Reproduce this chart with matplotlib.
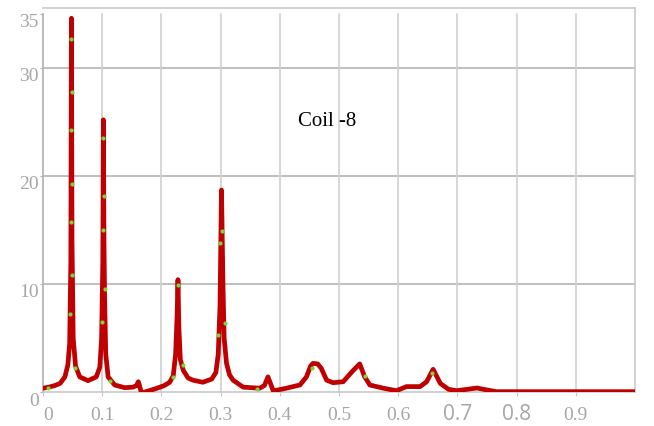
import matplotlib
matplotlib.use("Agg")
import matplotlib.pyplot as plt
from matplotlib.transforms import ScaledTranslation

# ---- data ----
freq = [0.000, 0.010, 0.020, 0.029, 0.037, 0.042, 0.045, 0.047, 0.048, 0.049,
        0.051, 0.055, 0.062, 0.076, 0.090, 0.096, 0.099, 0.101, 0.102, 0.103,
        0.104, 0.106, 0.110, 0.121, 0.138, 0.152, 0.158, 0.161, 0.1665, 0.175,
        0.190, 0.205, 0.214, 0.220, 0.224, 0.2265, 0.228, 0.2295, 0.232, 0.237,
        0.245, 0.253, 0.270, 0.285, 0.292, 0.296, 0.299, 0.3015, 0.304, 0.306,
        0.310, 0.315, 0.321, 0.338, 0.366, 0.374, 0.380, 0.389, 0.411, 0.434,
        0.445, 0.452, 0.456, 0.464, 0.470, 0.479, 0.490, 0.507, 0.524, 0.535,
        0.543, 0.552, 0.575, 0.597, 0.614, 0.637, 0.648, 0.659, 0.671, 0.685,
        0.699, 0.733, 0.744, 0.766, 0.800, 1.000]
amplitude = [0.35, 0.45, 0.6, 0.8, 1.4, 2.5, 4.5, 12.0, 34.6, 14.0,
             5.0, 2.4, 1.4, 1.05, 1.4, 2.3, 5.0, 12.0, 25.2, 14.0,
             9.0, 3.5, 1.4, 0.65, 0.4, 0.45, 0.6, 0.95, -0.1, 0.05,
             0.3, 0.6, 0.9, 1.5, 3.5, 7.0, 10.4, 6.0, 3.0, 2.0,
             1.3, 1.1, 0.9, 1.2, 1.8, 3.5, 8.0, 18.7, 10.0, 5.0,
             2.65, 1.6, 1.1, 0.45, 0.35, 0.6, 1.4, 0.1, 0.35, 0.65,
             1.4, 2.4, 2.65, 2.6, 2.2, 1.1, 0.86, 0.95, 2.0, 2.6,
             1.45, 0.65, 0.35, 0.12, 0.5, 0.5, 0.95, 2.1, 0.8, 0.25,
             0.12, 0.37, 0.25, 0.03, 0.03, 0.03]

dot_freq = [0.009, 0.048, 0.049, 0.047, 0.049, 0.047, 0.049, 0.046, 0.054,
            0.102, 0.103, 0.101, 0.105, 0.099, 0.113,
            0.220, 0.228, 0.2366, 0.3024, 0.2997, 0.307, 0.2956,
            0.362, 0.454, 0.5435, 0.6565]
dot_amp = [0.35, 32.7, 27.8, 24.3, 19.3, 15.7, 10.8, 7.2, 2.25,
           23.5, 18.1, 15.0, 9.5, 6.5, 1.05,
           1.4, 9.9, 2.5, 14.9, 13.8, 6.4, 5.3,
           0.3, 2.25, 1.45, 1.8]

xticks = [0, 0.1, 0.2, 0.3, 0.4, 0.5, 0.6, 0.7, 0.8, 0.9]
xlabels = ["0", "0.1", "0.2", "0.3", "0.4", "0.5", "0.6", "0.7", "0.8", "0.9"]
yticks = [0, 10, 20, 30, 35]
ylabels = ["0", "10", "20", "30", "35"]
ygrid = [10, 20, 30]
title = "Coil -8"

# ---- figure ----
W, H, DPI = 654, 426, 100
fig = plt.figure(figsize=(W / DPI, H / DPI), dpi=DPI)
ax = fig.add_axes([43 / W, (H - 392) / H, 592 / W, 384 / H])
ax.set_xlim(0, 1.0)
ax.set_ylim(0, 35.55)

for g in ygrid:
    ax.axhline(g, color="#b4b4b4", lw=1.2, zorder=1)
for t in xticks[1:]:
    ax.plot([t, t], [0, 35], color="#d0d0d0", lw=1.2, zorder=1)

ax.plot(freq, amplitude, color="#c00000", lw=3.4, solid_joinstyle="round",
        solid_capstyle="round", zorder=3)
ax.scatter(dot_freq, dot_amp, s=9, color="#7ed23a", zorder=4, linewidths=0)

ax.text(0.48, 25.0, title, fontsize=15, family="Liberation Serif",
        color="black", ha="center", va="center")

for s in ["top", "right", "bottom", "left"]:
    ax.spines[s].set_color("#c8c8c8")
    ax.spines[s].set_linewidth(1.2)
ax.spines["left"].set_bounds(0, 35)
ax.spines["left"].set_color("#b0b0b0")

ax.set_xticks(xticks)
ax.set_xticklabels(xlabels)
ax.set_yticks(yticks)
ax.set_yticklabels(ylabels)
ax.tick_params(axis="x", length=3, color="#c8c8c8", pad=17)
ax.tick_params(axis="y", length=2, color="#b0b0b0", pad=1)

grey = "#a6a6a6"
for lab in ax.get_yticklabels():
    lab.set_fontfamily("Liberation Serif")
    lab.set_fontsize(14)
    lab.set_color(grey)
    lab.set_transform(lab.get_transform() + ScaledTranslation(0, -7 / DPI, fig.dpi_scale_trans))

for lab in ax.get_xticklabels():
    txt = lab.get_text()
    lab.set_va("baseline")
    lab.set_color(grey)
    if txt in ("0.7", "0.8"):
        lab.set_fontfamily("Open Sans")
        lab.set_fontsize(15)
    else:
        lab.set_fontfamily("Liberation Serif")
        lab.set_fontsize(14)
    if txt == "0":
        lab.set_transform(lab.get_transform() + ScaledTranslation(5 / DPI, 0, fig.dpi_scale_trans))

fig.savefig("out.png", dpi=DPI, facecolor="white")
